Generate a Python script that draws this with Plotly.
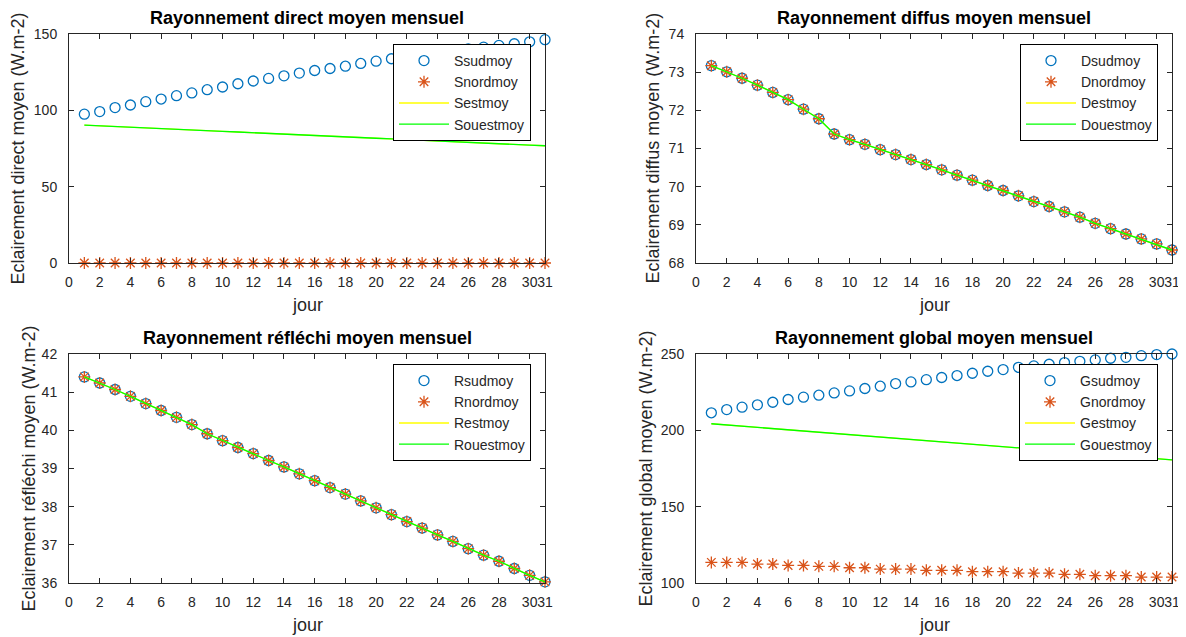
import plotly.graph_objects as go

jours = list(range(1, 32))
x_ticks = [0, 2, 4, 6, 8, 10, 12, 14, 16, 18, 20, 22, 24, 26, 28, 30, 31]

# Rayonnement direct
Ssudmoy = [97.5, 99.2, 101.8, 103.5, 105.7, 107.4, 109.6, 111.4, 113.5, 115.3,
           117.4, 119.2, 120.9, 122.6, 124.4, 126.1, 127.4, 128.9, 130.7, 132.2,
           133.8, 135.2, 136.6, 137.9, 139.1, 140.3, 141.4, 142.5, 143.6, 144.9, 146.3]
Snordmoy = [0.0] * 31
Sestmoy = [90.3, 89.8, 89.4, 88.9, 88.5, 88.0, 87.6, 87.1, 86.7, 86.2,
           85.8, 85.3, 84.9, 84.4, 84.0, 83.5, 83.1, 82.6, 82.2, 81.7,
           81.3, 80.8, 80.4, 79.9, 79.5, 79.0, 78.6, 78.1, 77.7, 77.2, 76.8]
Souestmoy = list(Sestmoy)

# Rayonnement diffus
Dsudmoy = [73.17, 73.01, 72.84, 72.66, 72.47, 72.28, 72.03, 71.78, 71.38, 71.23,
           71.11, 70.97, 70.84, 70.71, 70.58, 70.44, 70.30, 70.17, 70.03, 69.90,
           69.76, 69.61, 69.48, 69.34, 69.20, 69.04, 68.90, 68.76, 68.63, 68.50, 68.34]
Dnordmoy = list(Dsudmoy)
Destmoy = list(Dsudmoy)
Douestmoy = list(Dsudmoy)

# Rayonnement réfléchi
Rsudmoy = [41.40, 41.24, 41.07, 40.89, 40.70, 40.52, 40.34, 40.15, 39.91, 39.73,
           39.55, 39.39, 39.21, 39.04, 38.86, 38.68, 38.50, 38.33, 38.15, 37.97,
           37.79, 37.61, 37.44, 37.26, 37.09, 36.90, 36.73, 36.57, 36.38, 36.20, 36.03]
Rnordmoy = list(Rsudmoy)
Restmoy = list(Rsudmoy)
Rouestmoy = list(Rsudmoy)

# Rayonnement global
Gsudmoy = [211.5, 213.6, 215.2, 216.7, 218.4, 220.2, 221.7, 223.0, 224.5, 225.8,
           227.4, 228.9, 230.6, 231.7, 233.2, 234.6, 235.9, 237.4, 238.7, 239.8,
           241.3, 242.2, 243.3, 244.4, 245.2, 246.1, 247.2, 247.8, 248.9, 249.6, 250.0]
Gnordmoy = [113.5, 113.5, 113.5, 112.4, 112.4, 111.5, 111.5, 110.9, 110.9, 110.0,
            110.0, 109.1, 109.1, 109.1, 108.3, 108.3, 108.3, 107.4, 107.4, 107.4,
            106.5, 106.5, 106.5, 105.7, 105.7, 104.8, 104.8, 104.8, 103.9, 103.9, 103.9]
Gestmoy = [204.3, 203.5, 202.7, 201.9, 201.1, 200.3, 199.5, 198.8, 198.0, 197.2,
           196.4, 195.6, 194.8, 194.0, 193.2, 192.4, 191.7, 190.9, 190.1, 189.3,
           188.5, 187.7, 186.9, 186.1, 185.3, 184.5, 183.7, 183.0, 182.2, 181.4, 180.6]
Gouestmoy = list(Gestmoy)

titles = ["Rayonnement direct moyen mensuel", "Rayonnement diffus moyen mensuel",
          "Rayonnement réfléchi moyen mensuel", "Rayonnement global moyen mensuel"]
ylabels = ["Eclairement direct moyen (W.m-2)", "Eclairement diffus moyen (W.m-2)",
           "Eclairement réfléchi moyen (W.m-2)", "Eclairement global moyen (W.m-2)"]
xlabel = "jour"
names = [["Ssudmoy", "Snordmoy", "Sestmoy", "Souestmoy"],
         ["Dsudmoy", "Dnordmoy", "Destmoy", "Douestmoy"],
         ["Rsudmoy", "Rnordmoy", "Restmoy", "Rouestmoy"],
         ["Gsudmoy", "Gnordmoy", "Gestmoy", "Gouestmoy"]]
data = [[Ssudmoy, Snordmoy, Sestmoy, Souestmoy],
        [Dsudmoy, Dnordmoy, Destmoy, Douestmoy],
        [Rsudmoy, Rnordmoy, Restmoy, Rouestmoy],
        [Gsudmoy, Gnordmoy, Gestmoy, Gouestmoy]]
yranges = [[0, 150], [68, 74], [36, 42], [100, 250]]
ydticks = [50, 1, 1, 50]

# page body has an 8px margin: figure is drawn at (8, 8)
OFF = 8
W, H = 1186 - OFF, 637 - OFF
FONT = "Liberation Sans, Arial, Helvetica, sans-serif"
TXT = "#262626"
BLUE = "#0072BD"
ORANGE = "#D95319"


def px(x):
    return (x - OFF) / W


def py(y):
    return 1 - (y - OFF) / H


# pixel boxes in window coordinates (left, right, top, bottom)
boxes = [(69, 545, 34, 263), (696, 1172, 34, 263),
         (69, 545, 354, 583), (696, 1172, 354, 583)]
legend_pos = [(531, 44), (1158, 44), (531, 364), (1158, 364)]
ylabel_x = [18, 653, 28, 645]

fig = go.Figure()
layout = dict(width=W, height=H, margin=dict(l=0, r=0, t=0, b=0, autoexpand=False),
              plot_bgcolor="white", paper_bgcolor="white",
              font=dict(family=FONT, color=TXT, size=14), annotations=[])

for i in range(4):
    xa = "x" if i == 0 else f"x{i+1}"
    ya = "y" if i == 0 else f"y{i+1}"
    lg = "legend" if i == 0 else f"legend{i+1}"
    s, n, e, o = data[i]
    fig.add_trace(go.Scatter(x=jours, y=s, mode="markers", name=names[i][0],
                             xaxis=xa, yaxis=ya, legend=lg, cliponaxis=False,
                             marker=dict(symbol="circle-open", size=10, color=BLUE,
                                         line=dict(width=1.3, color=BLUE))))
    fig.add_trace(go.Scatter(x=jours, y=n, mode="markers", name=names[i][1],
                             xaxis=xa, yaxis=ya, legend=lg, cliponaxis=False,
                             marker=dict(symbol="asterisk-open", size=10, color=ORANGE,
                                         line=dict(width=1.3, color=ORANGE))))
    fig.add_trace(go.Scatter(x=jours, y=e, mode="lines", name=names[i][2],
                             xaxis=xa, yaxis=ya, legend=lg,
                             line=dict(color="#FFFF00", width=1.3)))
    fig.add_trace(go.Scatter(x=jours, y=o, mode="lines", name=names[i][3],
                             xaxis=xa, yaxis=ya, legend=lg,
                             line=dict(color="#00FF00", width=1.3)))

    l, r, t, b = boxes[i]
    xkey = "xaxis" if i == 0 else f"xaxis{i+1}"
    ykey = "yaxis" if i == 0 else f"yaxis{i+1}"
    layout[xkey] = dict(domain=[px(l), px(r)], anchor=ya, range=[0, 31],
                        tickmode="array", tickvals=x_ticks, tickangle=0,
                        ticks="inside", ticklen=5, tickcolor=TXT,
                        showline=True, linecolor=TXT, linewidth=1, mirror="ticks",
                        showgrid=False, zeroline=False, automargin=False,
                        tickfont=dict(size=14, color=TXT), ticklabelstandoff=6)
    layout[ykey] = dict(domain=[py(b), py(t)], anchor=xa, range=yranges[i],
                        dtick=ydticks[i], tick0=0,
                        ticks="inside", ticklen=5, tickcolor=TXT,
                        showline=True, linecolor=TXT, linewidth=1, mirror="ticks",
                        showgrid=False, zeroline=False, automargin=False,
                        tickfont=dict(size=14, color=TXT), ticklabelstandoff=8)
    lx, ly = legend_pos[i]
    layout[lg] = dict(x=px(lx), y=py(ly), xanchor="right", yanchor="top",
                      bgcolor="white", bordercolor="#000000", borderwidth=1,
                      font=dict(size=14, color=TXT), itemwidth=50,
                      tracegroupgap=0)
    # title
    layout["annotations"].append(dict(
        text="<b>" + titles[i] + "</b>", xref="paper", yref="paper",
        x=px((l + r) / 2), y=py(t - 16), xanchor="center", yanchor="middle",
        showarrow=False, font=dict(size=18, color="#000000", family=FONT)))
    # x label
    layout["annotations"].append(dict(
        text=xlabel, xref="paper", yref="paper",
        x=px((l + r) / 2), y=py(b + 42), xanchor="center", yanchor="middle",
        showarrow=False, font=dict(size=18, color=TXT, family=FONT)))
    # y label
    layout["annotations"].append(dict(
        text=ylabels[i], xref="paper", yref="paper", textangle=-90,
        x=px(ylabel_x[i]), y=py((t + b) / 2), xanchor="center", yanchor="middle",
        showarrow=False, font=dict(size=18, color=TXT, family=FONT)))

fig.update_layout(**layout)
fig.write_html("out.html")
